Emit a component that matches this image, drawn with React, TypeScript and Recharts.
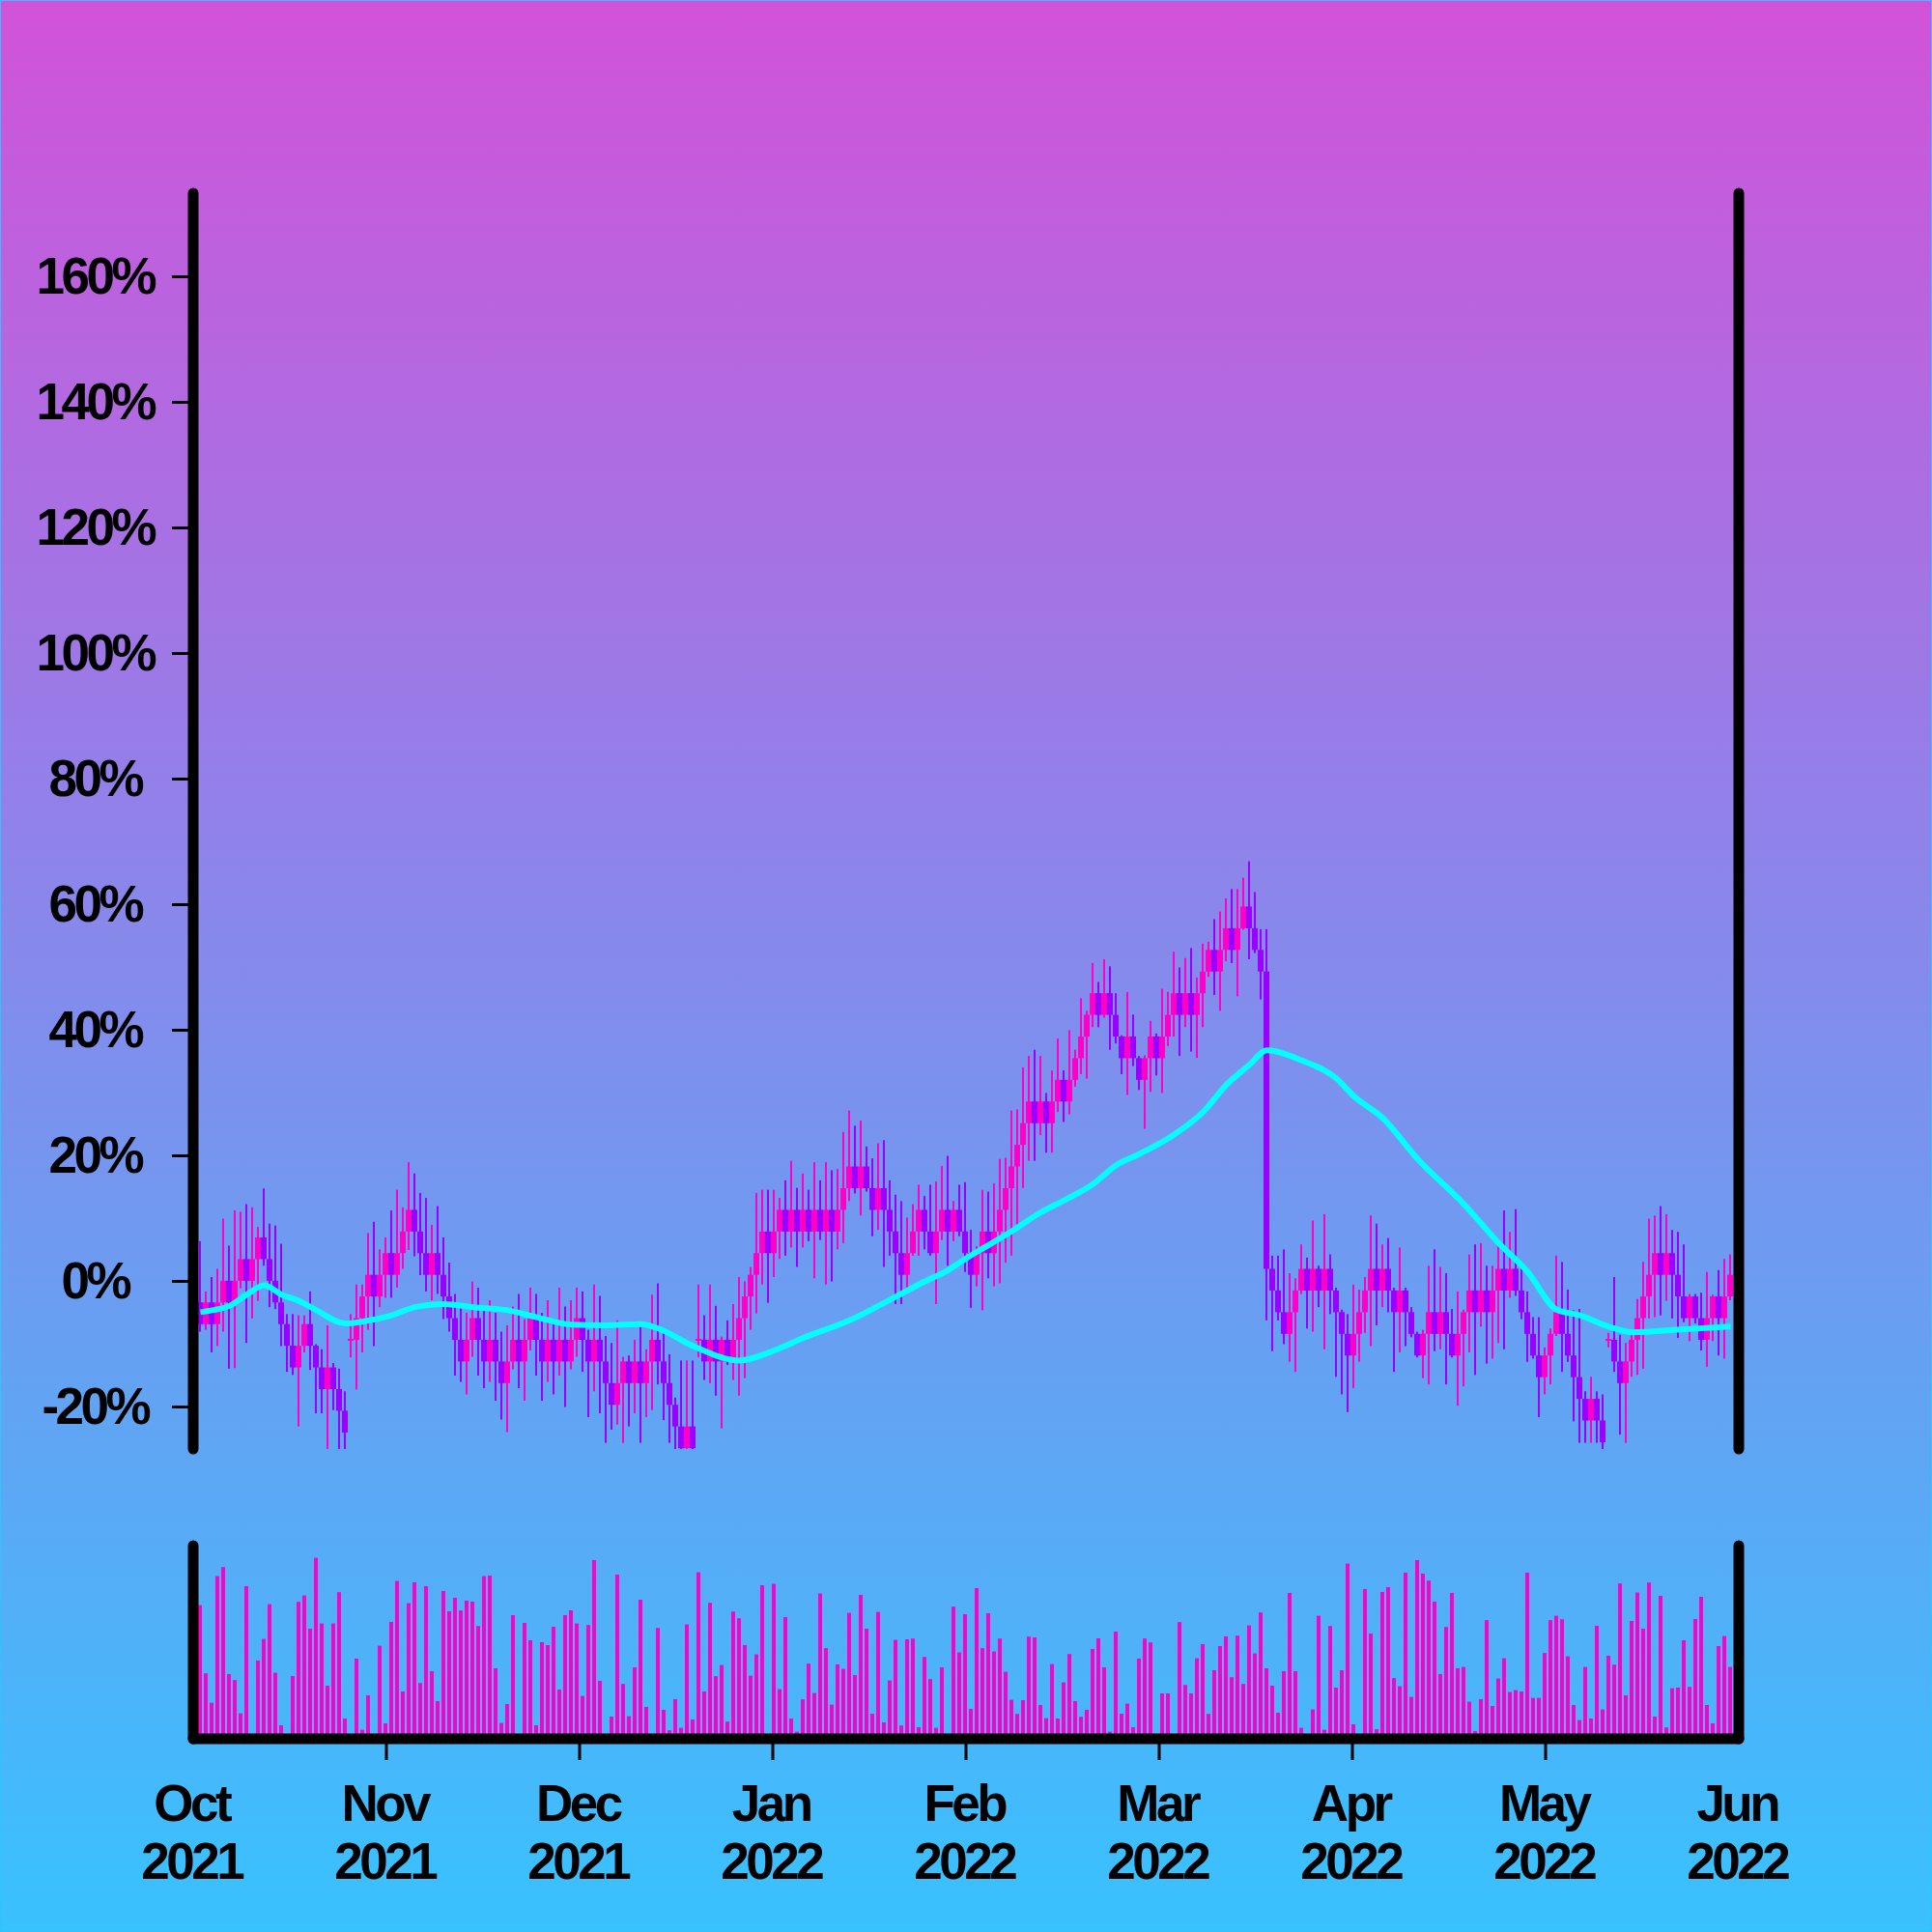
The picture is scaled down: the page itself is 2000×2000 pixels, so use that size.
import { ComposedChart, Bar, Line, XAxis, YAxis } from "recharts"

const months = ["Oct", "Nov", "Dec", "Jan", "Feb", "Mar", "Apr", "May", "Jun"]
const years = ["2021", "2021", "2021", "2022", "2022", "2022", "2022", "2022", "2022"]
const yTicks = [-20, 0, 20, 40, 60, 80, 100, 120, 140, 160]

// daily candles, values in %
const open = [
  -3.35, -6.8, -3.35, -6.8, -3.35, 0.1, -3.35, 0.1, 3.55, 0.1, 3.55, 7.0, 3.55, 0.1, -3.35, -6.8, -10.25, -13.7, -10.25, -6.8, -10.25, -13.7, -17.15, -13.7, -17.15, -20.6,
  -9.3, -9.3, -5.85, -2.4, 1.05, -2.4, 1.05, 4.5, 1.05, 4.5, 7.95, 11.4, 7.95, 4.5, 1.05, 4.5, 1.05, -2.4, -5.85, -9.3, -12.75, -9.3, -5.85, -9.3, -12.75, -9.3, -12.75, -16.2, -12.75, -9.3,
  -12.75, -9.3, -5.85, -9.3, -12.75, -9.3, -12.75, -9.3, -12.75, -9.3, -5.85, -9.3, -12.75, -9.3, -12.75, -16.2, -19.65, -16.2, -12.75, -16.2, -12.75, -16.2, -12.75, -9.3, -12.75, -16.2, -19.65, -23.1, -26.55, -23.1,
  -9.3, -9.3, -12.75, -9.3, -12.75, -9.3, -12.75, -9.3, -5.85, -2.4, 1.05, 4.5, 7.95, 4.5, 7.95, 11.4, 7.95, 11.4, 7.95, 11.4, 7.95, 11.4, 7.95, 11.4, 7.95, 11.4, 14.85, 18.3, 14.85, 18.3, 14.85, 11.4, 14.85, 11.4, 7.95,
  4.5, 1.05, 4.5, 7.95, 11.4, 7.95, 4.5, 7.95, 11.4, 7.95, 11.4, 7.95, 4.5, 1.05, 4.5, 7.95, 4.5, 7.95, 11.4, 14.85, 18.3, 21.75, 25.2, 28.65, 25.2, 28.65, 25.2, 28.65, 32.1, 28.65, 32.1, 35.55, 39.0, 42.45, 45.9,
  42.45, 45.9, 42.45, 39.0, 35.55, 39.0, 35.55, 32.1, 35.55, 39.0, 35.55, 39.0, 42.45, 45.9, 42.45, 45.9, 42.45, 45.9, 49.35, 52.8, 49.35, 52.8, 56.25, 52.8, 56.25, 59.7, 56.25, 52.8, 49.35,
  2.0, -1.45, -4.9, -8.35, -4.9, -1.45, 2.0, -1.45, 2.0, -1.45, 2.0, -1.45, -4.9, -8.35, -11.8, -8.35, -4.9, -1.45, 2.0, -1.45, 2.0, -1.45, -4.9, -1.45, -4.9, -8.35, -11.8, -8.35, -4.9, -8.35, -4.9, -8.35, -11.8, -8.35,
  -4.9, -1.45, -4.9, -1.45, -4.9, -1.45, 2.0, -1.45, 2.0, -1.45, -4.9, -8.35, -11.8, -15.25, -11.8, -8.35, -4.9, -8.35, -11.8, -15.25, -18.7, -22.15, -18.7, -22.15,
  -9.3, -9.3, -12.75, -16.2, -12.75, -9.3, -5.85, -2.4, 1.05, 4.5, 1.05, 4.5, 1.05, -2.4, -5.85, -2.4, -5.85, -9.3, -5.85, -2.4, -5.85, -2.4,
]

const close = [
  -6.8, -3.35, -6.8, -3.35, 0.1, -3.35, 0.1, 3.55, 0.1, 3.55, 7.0, 3.55, 0.1, -3.35, -6.8, -10.25, -13.7, -10.25, -6.8, -10.25, -13.7, -17.15, -13.7, -17.15, -20.6, -24.05,
  -9.3, -5.85, -2.4, 1.05, -2.4, 1.05, 4.5, 1.05, 4.5, 7.95, 11.4, 7.95, 4.5, 1.05, 4.5, 1.05, -2.4, -5.85, -9.3, -12.75, -9.3, -5.85, -9.3, -12.75, -9.3, -12.75, -16.2, -12.75, -9.3, -12.75,
  -9.3, -5.85, -9.3, -12.75, -9.3, -12.75, -9.3, -12.75, -9.3, -5.85, -9.3, -12.75, -9.3, -12.75, -16.2, -19.65, -16.2, -12.75, -16.2, -12.75, -16.2, -12.75, -9.3, -12.75, -16.2, -19.65, -23.1, -26.55, -23.1, -26.55,
  -9.3, -12.75, -9.3, -12.75, -9.3, -12.75, -9.3, -5.85, -2.4, 1.05, 4.5, 7.95, 4.5, 7.95, 11.4, 7.95, 11.4, 7.95, 11.4, 7.95, 11.4, 7.95, 11.4, 7.95, 11.4, 14.85, 18.3, 14.85, 18.3, 14.85, 11.4, 14.85, 11.4, 7.95, 4.5,
  1.05, 4.5, 7.95, 11.4, 7.95, 4.5, 7.95, 11.4, 7.95, 11.4, 7.95, 4.5, 1.05, 4.5, 7.95, 4.5, 7.95, 11.4, 14.85, 18.3, 21.75, 25.2, 28.65, 25.2, 28.65, 25.2, 28.65, 32.1, 28.65, 32.1, 35.55, 39.0, 42.45, 45.9, 42.45,
  45.9, 42.45, 39.0, 35.55, 39.0, 35.55, 32.1, 35.55, 39.0, 35.55, 39.0, 42.45, 45.9, 42.45, 45.9, 42.45, 45.9, 49.35, 52.8, 49.35, 52.8, 56.25, 52.8, 56.25, 59.7, 56.25, 52.8, 49.35, 2.0,
  -1.45, -4.9, -8.35, -4.9, -1.45, 2.0, -1.45, 2.0, -1.45, 2.0, -1.45, -4.9, -8.35, -11.8, -8.35, -4.9, -1.45, 2.0, -1.45, 2.0, -1.45, -4.9, -1.45, -4.9, -8.35, -11.8, -8.35, -4.9, -8.35, -4.9, -8.35, -11.8, -8.35, -4.9,
  -1.45, -4.9, -1.45, -4.9, -1.45, 2.0, -1.45, 2.0, -1.45, -4.9, -8.35, -11.8, -15.25, -11.8, -8.35, -4.9, -8.35, -11.8, -15.25, -18.7, -22.15, -18.7, -22.15, -25.6,
  -9.3, -12.75, -16.2, -12.75, -9.3, -5.85, -2.4, 1.05, 4.5, 1.05, 4.5, 1.05, -2.4, -5.85, -2.4, -5.85, -9.3, -5.85, -2.4, -5.85, -2.4, 1.05,
]

const high = [
  6.4, -1.6, 0.7, 2.0, 10.0, 5.7, 11.3, 11.1, 12.3, 11.8, 8.7, 14.8, 9.2, 8.9, 6.0, -5.2, -5.2, -5.4, -5.4, -1.6, -10.0, -10.8, -7.0, -13.0, -13.9, -17.5,
  -5.2, -0.5, -0.5, 7.7, 9.5, 5.1, 7.0, 11.3, 14.6, 11.8, 19.0, 17.2, 14.1, 13.3, 9.0, 12.0, 7.0, 3.0, -2.0, -4.0, -5.0, 0.0, -1.0, -4.0, -3.0, -5.0, -8.0, -7.0, -4.0, -2.0,
  -6.0, -1.0, -2.0, -5.0, -3.0, -6.0, -1.0, -4.0, -3.0, -1.0, -1.6, -7.7, -0.5, -2.3, -8.7, -9.8, -6.2, -12.0, -11.8, -9.3, -7.2, -10.8, -2.1, -0.3, -8.0, -11.6, -18.5, -12.6, -12.6, -12.6,
  -0.5, -5.4, -0.5, -3.9, -8.8, -6.2, -3.6, 0.7, 0.0, 2.3, 14.1, 14.6, 14.6, 14.6, 13.3, 16.1, 19.2, 14.9, 17.2, 14.6, 19.0, 16.1, 19.0, 17.7, 17.9, 23.8, 27.2, 24.8, 25.6, 21.5, 19.6, 22.0, 22.5, 16.1, 13.8,
  12.8, 10.2, 12.3, 15.4, 13.6, 15.4, 15.9, 18.4, 20.0, 12.8, 15.4, 15.8, 8.2, 5.6, 14.6, 14.3, 15.6, 19.5, 19.7, 27.2, 27.4, 34.1, 35.9, 36.9, 35.9, 30.0, 33.6, 38.7, 33.6, 40.0, 36.9, 45.1, 43.1, 50.7, 47.7,
  51.3, 50.2, 45.9, 39.2, 46.1, 42.5, 35.9, 36.0, 41.5, 39.5, 46.6, 46.1, 52.5, 50.0, 51.5, 53.1, 48.4, 53.8, 54.1, 57.7, 58.9, 61.0, 62.5, 62.5, 64.3, 66.9, 62.0, 56.1, 56.1,
  4.1, 4.1, 5.1, 1.3, 0.5, 5.9, 3.8, 9.7, 2.5, 10.7, 4.3, -1.0, -4.5, -5.2, -0.5, -1.3, 0.7, 10.5, 9.2, 5.9, 6.9, -1.0, 5.4, -1.0, -4.1, -8.0, -7.7, 2.5, 5.1, 2.3, 1.3, -4.4, -1.6, -4.5,
  4.3, 5.9, 6.1, 2.5, 2.5, 5.6, 11.3, 7.9, 11.5, 2.3, -1.6, -5.7, -5.7, -10.5, -7.5, 4.1, 3.1, -1.3, -4.6, -4.4, -17.5, -15.2, -17.5, -18.0,
  -8.2, 0.7, -8.5, -9.8, -8.0, -2.8, 3.1, 10.0, 10.5, 12.0, 10.7, 8.2, 7.9, 5.9, -2.0, -2.0, -1.8, 1.5, -2.1, 1.8, 3.6, 4.3,
]

const low = [
  -8.0, -7.7, -11.3, -10.3, -8.0, -13.9, -13.8, -1.1, -9.8, -5.9, -3.1, 2.5, -4.1, -4.4, -10.3, -14.4, -14.9, -23.1, -11.3, -14.1, -21.0, -21.0, -26.7, -20.5, -26.7, -26.7,
  -12.1, -17.2, -11.3, -7.7, -10.3, -4.1, -2.6, -2.6, -1.0, 2.0, 5.0, 4.0, 1.0, -1.6, -3.0, -2.0, -6.0, -8.0, -15.0, -16.0, -18.0, -12.0, -15.0, -17.0, -16.0, -19.0, -22.0, -24.0, -14.0, -17.0,
  -19.0, -11.0, -15.0, -19.0, -16.0, -18.0, -15.0, -20.0, -14.0, -12.0, -14.4, -21.6, -17.5, -21.0, -25.7, -23.6, -22.8, -25.7, -23.1, -21.0, -25.7, -21.6, -20.5, -16.4, -22.1, -25.7, -27.5, -28.0, -28.0, -28.0,
  -12.1, -15.7, -16.2, -18.2, -23.4, -13.3, -15.7, -18.2, -15.4, -7.7, -5.1, -0.5, -3.4, 0.7, 3.6, 4.1, 5.4, 2.3, 5.4, 6.4, 0.5, 6.6, -0.5, 0.0, 5.1, 6.1, 12.8, 14.0, 10.5, 14.3, 7.2, 8.2, 2.3, 4.1, -3.6,
  -3.6, -1.0, 4.1, 4.1, 5.1, 4.1, -3.6, 6.6, 2.5, 6.4, 7.2, 1.5, -4.2, -0.8, -4.6, 0.5, -0.8, -0.3, 3.0, 4.1, 9.0, 14.9, 19.2, 19.2, 23.3, 20.5, 20.5, 27.0, 25.4, 26.6, 31.0, 33.0, 32.3, 40.5, 40.5,
  42.0, 36.9, 37.9, 33.0, 29.7, 34.3, 30.5, 24.3, 30.2, 32.8, 30.0, 37.5, 39.0, 35.9, 40.5, 36.6, 35.6, 40.5, 48.5, 45.6, 43.1, 51.0, 50.7, 45.4, 56.0, 51.3, 52.3, 44.9, -6.2,
  -11.1, -6.2, -10.0, -12.8, -14.4, -2.0, -7.5, -8.0, -4.1, -10.8, -5.2, -15.2, -18.0, -20.8, -17.0, -12.8, -8.2, -10.3, -7.0, -4.1, -4.9, -14.4, -11.3, -10.3, -8.9, -12.1, -15.4, -16.4, -11.1, -10.8, -16.4, -12.1, -19.8, -16.7,
  -11.3, -14.9, -7.2, -13.1, -12.3, -9.8, -10.8, -2.6, -2.3, -6.0, -12.8, -12.3, -21.6, -18.0, -16.4, -8.7, -14.4, -12.8, -22.3, -25.7, -25.7, -25.7, -25.7, -27.5,
  -10.5, -14.4, -24.4, -25.7, -15.2, -14.9, -13.9, -5.9, -5.7, -5.4, -3.1, -5.9, -9.0, -6.5, -9.5, -6.7, -11.0, -13.6, -9.5, -11.8, -12.3, -3.0,
]

const volume = [
  69.2, 33.9, 18.7, 84.2, 88.9, 33.5, 30.4, 13.2, 79, 0, 40.5, 51.7, 69.7, 34.2, 7, 0, 32.5, 70.9, 74.2, 57, 93.7, 59.7, 27.5, 59.7, 75.9, 10.5,
  0, 41.5, 4.7, 22.5, 0, 48.2, 8, 60.5, 81.7, 24.5, 70.2, 81, 28.9, 79, 35, 19.5, 76.5, 66, 73, 66.4, 71.5, 71, 58.4, 84.2, 84.5, 36.5, 8.2, 18, 64, 0,
  60, 51, 7, 50, 48.5, 58, 25.5, 64, 66.5, 59.7, 22.2, 58.9, 92.5, 30, 0, 11.5, 85, 28.4, 11.7, 37, 72, 16.5, 0, 57.4, 15, 4.4, 20.5, 5.7, 59.2, 10,
  86.2, 24.5, 70.4, 32.4, 38.2, 8.9, 65.9, 62.4, 48.5, 32.7, 43.7, 79.5, 0, 80.2, 25.7, 63, 10.5, 3.7, 20.4, 38.9, 23.7, 75.2, 46.9, 17.7, 38.5, 36.2, 65.2, 33, 74.5, 57, 13, 65.7, 8.5, 30.2, 51.2,
  6.9, 51.5, 51.9, 6, 42.4, 30.9, 5.7, 37, 0, 68.4, 44.7, 64.5, 15.5, 78, 46.9, 65, 45.2, 51.9, 34.7, 20.2, 12.9, 20, 52.9, 52.5, 17.5, 10.7, 38.7, 10.5, 29.2, 43.9, 19.5, 11.4, 15, 46.5, 52,
  37, 3.7, 55.5, 13, 18.2, 6, 41.5, 51.9, 49.9, 0, 23.5, 23.5, 0, 60.4, 27.9, 23.5, 41.7, 49, 12.9, 35.5, 48, 53, 31.9, 53.4, 28.4, 58.7, 44.2, 65.4, 36.5,
  27.5, 13.5, 35, 75.5, 35, 5.7, 0, 15.2, 63.7, 4.7, 58.4, 26.5, 35.5, 90.7, 7.5, 0, 77.5, 54.5, 5, 76, 78.5, 31.4, 27.2, 86, 21.7, 92.5, 85.5, 81.9, 71, 33.5, 57.9, 75.5, 36.5, 37.2,
  19.2, 4, 20.5, 61.4, 17, 31.2, 41.7, 24.2, 25.2, 24.5, 86, 21.2, 21.2, 44.4, 61.4, 63.7, 61.9, 42.7, 17.5, 9.7, 37.2, 10.5, 58.5, 15.2,
  43, 38.4, 80.4, 22.5, 61, 75.7, 57, 80.9, 11.5, 74, 5.9, 26.2, 26.5, 51, 26.9, 62, 73.5, 17.5, 8, 48, 53.2, 37.2,
]

// moving average, read at a subset of days
const maDay = [0, 2, 5, 8, 11, 14, 17, 20, 25, 28, 33, 37, 42, 47, 53, 58, 64, 70, 76, 79, 85, 93, 99, 104, 112, 118, 125, 129, 132, 136, 140, 145, 149, 154, 158, 162, 168, 173, 177, 181, 184, 190, 196, 199, 204, 210, 218, 224, 229, 234, 238, 243, 247, 256, 264]
const maValue = [-4.9, -4.6, -3.9, -2.1, -0.6, -2.1, -3.1, -4.6, -6.7, -6.4, -5.4, -4.1, -3.6, -4.1, -4.6, -5.7, -6.9, -7.0, -6.8, -7.5, -10.3, -12.6, -11.0, -9.0, -6.2, -3.4, 0.0, 1.8, 3.6, 5.8, 8.0, 11.0, 12.9, 15.5, 18.5, 20.3, 23.4, 27.0, 31.3, 34.5, 36.8, 35.2, 32.3, 29.5, 26.0, 19.5, 12.3, 6.1, 1.5, -4.5, -5.4, -7.2, -8.1, -7.6, -7.2]

const PINK = "#ff00c8"
const PURPLE = "#9900ff"
const CYAN = "#00ffff"

// 6px per day, first candle centred 7px right of the axis
const X0 = -1.25
const X_SPAN = 1600 / 6
const xTicks = months.map((_, k) => X0 + (k * X_SPAN) / 8)

const maByDay = new Map(maDay.map((d, i) => [d, maValue[i]]))
const candles = close.map((c, i) => ({
  t: i,
  open: open[i],
  close: c,
  high: high[i],
  low: low[i],
  ma: maByDay.has(i) ? maByDay.get(i) : null,
}))
const volumes = volume.map((v, i) => ({ t: i, vol: v }))

const axisLine = { stroke: "#000", strokeWidth: 11, strokeLinecap: "round" as const }
const labelStyle = {
  fontFamily: "'Liberation Sans', Arial, sans-serif",
  fontWeight: 700,
  fontSize: 53,
  letterSpacing: -3.5,
  fill: "#000",
}

function Candle(props: any) {
  const { x, y, width, height, payload } = props
  if (x == null || !payload) return null
  const cx = x + width / 2
  const top = Math.min(y, y + height)
  const bottom = Math.max(y, y + height)
  const span = payload.high - payload.low
  const toY = (v: number) => top + ((payload.high - v) / span) * (bottom - top)
  const color = payload.close >= payload.open ? PINK : PURPLE
  const bTop = toY(Math.max(payload.open, payload.close))
  const bBottom = toY(Math.min(payload.open, payload.close))
  const doji = bBottom - bTop < 2
  return (
    <g>
      <rect x={cx - 1} y={top} width={2} height={bottom - top} fill={color} />
      <rect x={cx - 3} y={doji ? bTop - 1 : bTop} width={6} height={doji ? 2 : bBottom - bTop} fill={color} />
    </g>
  )
}

function VolumeBar(props: any) {
  const { x, y, width, height } = props
  if (x == null || !height || height <= 0) return null
  const cx = x + width / 2
  return <rect x={cx - 2} y={y} width={4} height={height} fill={PINK} />
}

// labels are centred in the 200px gutter left of the axis
function PercentTick(props: any) {
  const { y, payload } = props
  return (
    <text x={100} y={y} dy={17} dx={-1.75} textAnchor="middle" style={labelStyle}>
      {payload.value}%
    </text>
  )
}

function MonthTick(props: any) {
  const { x, y, index } = props
  const inner = index > 0 && index < months.length - 1
  return (
    <g>
      {inner && <line x1={x} x2={x} y1={y - 22} y2={y} stroke="#000" strokeWidth={3} />}
      <text x={x} y={y + 63} dx={-1.75} textAnchor="middle" style={labelStyle}>
        {months[index]}
      </text>
      <text x={x} y={y + 123} dx={-1.75} textAnchor="middle" style={labelStyle}>
        {years[index]}
      </text>
    </g>
  )
}

export default function App() {
  return (
    <div
      style={{
        position: "absolute",
        left: 0,
        top: 0,
        width: 2000,
        height: 2000,
        boxSizing: "border-box",
        border: "1px solid #30c4ff",
        background: "linear-gradient(to bottom, #d252d9 0%, #38c2fe 100%)",
        overflow: "hidden",
      }}
    >
      <div style={{ position: "absolute", left: -1, top: -1 }}>
        <ComposedChart width={2000} height={1520} data={candles} margin={{ top: 200, right: 190, bottom: 20, left: 0 }}>
          <XAxis
            type="number"
            dataKey="t"
            domain={[xTicks[0], xTicks[8]]}
            ticks={xTicks}
            allowDataOverflow
            tick={false}
            tickLine={false}
            axisLine={axisLine}
            height={0}
          />
          <YAxis
            domain={[-26.69, 173.31]}
            allowDataOverflow
            ticks={yTicks}
            interval={0}
            width={200}
            tickSize={22}
            tickLine={{ stroke: "#000", strokeWidth: 3 }}
            axisLine={axisLine}
            tick={<PercentTick />}
          />
          <YAxis
            yAxisId="r"
            orientation="right"
            domain={[-26.69, 173.31]}
            allowDataOverflow
            width={10}
            tick={false}
            tickLine={false}
            axisLine={axisLine}
          />
          <Bar
            dataKey={(d: any) => [d.low, d.high]}
            barSize={5}
            shape={(p: any) => <Candle {...p} />}
            isAnimationActive={false}
          />
          <Line
            dataKey="ma"
            type="monotone"
            connectNulls
            dot={false}
            stroke={CYAN}
            strokeWidth={6}
            strokeLinejoin="round"
            isAnimationActive={false}
          />
        </ComposedChart>
      </div>
      <div style={{ position: "absolute", left: -1, top: 1499 }}>
        <ComposedChart width={2000} height={500} data={volumes} margin={{ top: 100, right: 190, bottom: 0, left: 0 }}>
          <XAxis
            type="number"
            dataKey="t"
            domain={[xTicks[0], xTicks[8]]}
            ticks={xTicks}
            interval={0}
            allowDataOverflow
            height={200}
            tickSize={22}
            tickMargin={0}
            tickLine={false}
            axisLine={axisLine}
            tick={<MonthTick />}
          />
          <YAxis domain={[0, 100]} allowDataOverflow width={200} tick={false} tickLine={false} axisLine={axisLine} />
          <YAxis yAxisId="r" orientation="right" domain={[0, 100]} width={10} tick={false} tickLine={false} axisLine={axisLine} />
          <Bar dataKey="vol" barSize={5} shape={(p: any) => <VolumeBar {...p} />} isAnimationActive={false} />
        </ComposedChart>
      </div>
    </div>
  )
}
